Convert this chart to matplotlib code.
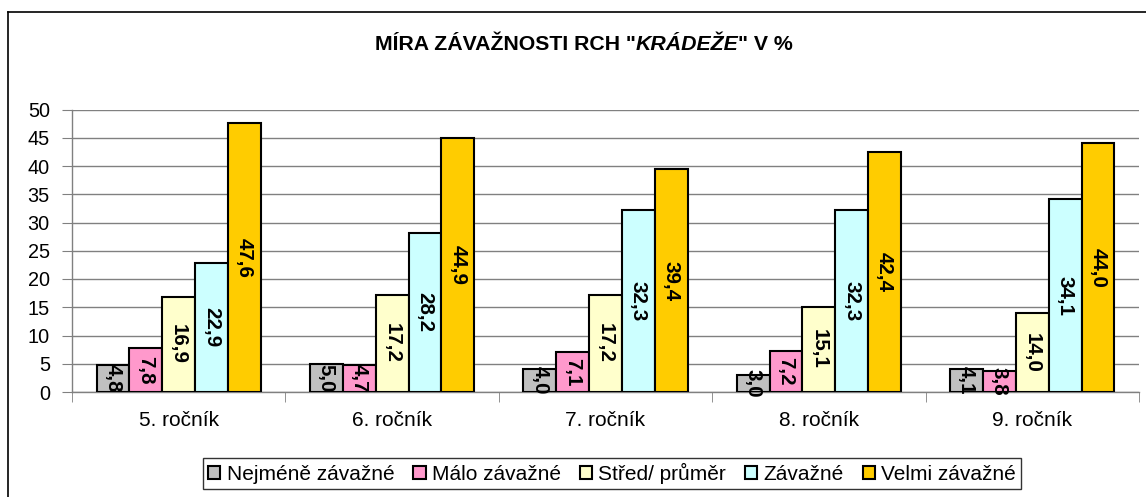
import matplotlib
matplotlib.use("Agg")
import matplotlib.pyplot as plt
import numpy as np
from matplotlib.patches import Patch

plt.rcParams['font.family'] = ['Liberation Sans', 'DejaVu Sans']

categories = ["5. ročník", "6. ročník", "7. ročník", "8. ročník", "9. ročník"]
series_names = ["Nejméně závažné", "Málo závažné", "Střed/ průměr", "Závažné", "Velmi závažné"]
nejmene = [4.8, 5.0, 4.0, 3.0, 4.1]
malo = [7.8, 4.7, 7.1, 7.2, 3.8]
stred = [16.9, 17.2, 17.2, 15.1, 14.0]
zavazne = [22.9, 28.2, 32.3, 32.3, 34.1]
velmi = [47.6, 44.9, 39.4, 42.4, 44.0]
colors = ["#C0C0C0", "#FF99CC", "#FFFFCC", "#CCFFFF", "#FFCC00"]

W, H = 1146, 497
fig = plt.figure(figsize=(W / 100, H / 100), dpi=100)
ax = fig.add_axes([72 / W, 105 / H, 1067 / W, 282.5 / H])

series = [nejmene, malo, stred, zavazne, velmi]
x = np.arange(len(categories))
bw = 0.154
for i, (vals, col) in enumerate(zip(series, colors)):
    pos = x + (i - 2) * bw
    ax.bar(pos, vals, width=bw, color=col, edgecolor='black', linewidth=1.5, zorder=3)
    for p, v in zip(pos, vals):
        ax.text(p, v / 2, f"{v:.1f}".replace('.', ','), rotation=270,
                ha='center', va='center', fontsize=14.8, fontweight='bold', zorder=4)

ax.set_xlim(-0.5, len(categories) - 0.5)
ax.set_ylim(0, 50)
ax.set_yticks(np.arange(0, 51, 5))
ax.tick_params(axis='y', labelsize=14.3, length=7, color='#808080', pad=9)
ax.set_xticks(x)
ax.set_xticklabels(categories, fontsize=15)
ax.set_xticks(np.arange(-0.5, len(categories), 1), minor=True)
ax.tick_params(axis='x', which='major', length=0, pad=14)
ax.tick_params(axis='x', which='minor', length=7, color='#808080')
ax.grid(axis='y', color='#808080', linewidth=1, zorder=0)
for s in ['top', 'right']:
    ax.spines[s].set_visible(False)
for s in ['left', 'bottom']:
    ax.spines[s].set_color('#808080')
    ax.spines[s].set_linewidth(1)

# outer chart frame (left and top edges visible)
fig.add_artist(plt.Line2D([8 / W, 8 / W], [0, 1 - 12 / H], transform=fig.transFigure,
                          color='black', linewidth=1.2))
fig.add_artist(plt.Line2D([8 / W, 1], [1 - 12 / H, 1 - 12 / H], transform=fig.transFigure,
                          color='black', linewidth=1.2))

# title with italic part
parts = [("MÍRA ZÁVAŽNOSTI RCH \"", 'normal'), ("KRÁDEŽE", 'italic'), ("\" V %", 'normal')]
renderer = fig.canvas.get_renderer()
texts = []
widths = []
for s, style in parts:
    t = fig.text(0, 1 - 45 / H, s, fontsize=15.3, fontweight='bold', style=style,
                 ha='left', va='center')
    bb = t.get_window_extent(renderer=renderer)
    texts.append(t)
    widths.append(bb.width)
total = sum(widths)
xpos = 584 - total / 2
for t, w in zip(texts, widths):
    t.set_x(xpos / W)
    xpos += w

handles = [Patch(facecolor=c, edgecolor='black', linewidth=1.5, label=n)
           for c, n in zip(colors, series_names)]
leg = fig.legend(handles=handles, loc='center', bbox_to_anchor=(612 / W, 1 - 473.5 / H),
                 ncol=5, fontsize=15, frameon=True, fancybox=False, edgecolor='black',
                 handlelength=0.6, handleheight=0.6, handletextpad=0.3,
                 columnspacing=0.9, borderpad=0.22, borderaxespad=0)
leg.get_frame().set_linewidth(1)

fig.savefig("out.png", dpi=100)
